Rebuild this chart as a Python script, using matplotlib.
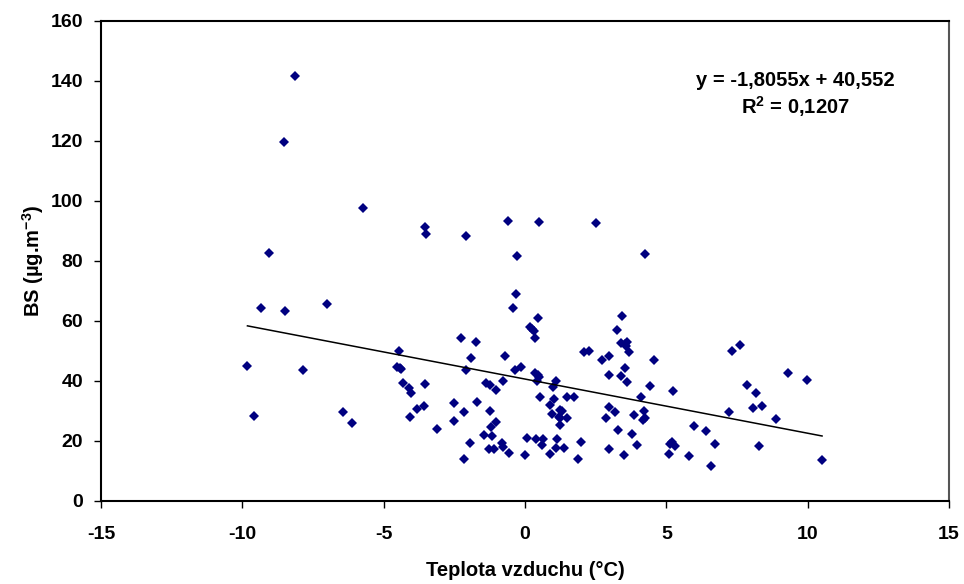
import numpy as np
import matplotlib
matplotlib.use('Agg')
import matplotlib.pyplot as plt

plt.rcParams['font.family'] = ['Liberation Sans', 'DejaVu Sans']
plt.rcParams['font.weight'] = 'bold'
plt.rcParams['axes.unicode_minus'] = False
plt.rcParams['mathtext.fontset'] = 'custom'
plt.rcParams['mathtext.rm'] = 'Liberation Sans:bold'
plt.rcParams['mathtext.bf'] = 'Liberation Sans:bold'
plt.rcParams['mathtext.default'] = 'bf'

# air temperature (°C) and BS concentration
temp = [
    -8.13, -8.53, -5.73, -9.07, -9.33, -8.50, -6.99, -9.82, -7.87, -9.60,
    -6.43, -6.12,
    5.22, 7.33, 7.59, 9.29, 9.96, 7.84, 8.16, 8.06, 8.37, 7.23,
    8.89, 5.99, 6.39, 6.73, 8.29, 5.14, 5.19, 5.32, 5.08, 5.79,
    6.58, 10.51,
    -3.55, -3.51, -2.08, -0.60, 0.48, 2.52, -0.27, 4.23, -0.31, -0.41,
    0.47, 0.18, 0.26, 0.33, 0.35, 3.44, 3.24, 3.38, 3.53, 3.60,
    3.57, 3.69, -2.26, -1.75, -4.46, -1.91, -0.69, 2.08, 2.27, 2.71,
    2.97, 4.55, -4.53, -4.43, -4.37, -2.07, -0.37, -0.14, 0.37, 0.45,
    0.50, 0.43, 3.55, 2.97, 3.40, 3.60, -4.30, -4.09, -4.04, -3.55,
    -1.37, -1.24, -0.78, -1.03, 1.09, 1.00, 0.54, 1.04, 1.50, 1.75,
    0.87, 0.96, 1.24, 1.32, 1.19, 1.24, 1.50, 1.25, 4.10, 4.43,
    2.97, 3.19, 2.87, 3.87, 4.21, 4.26, 4.17, 3.30, 3.80, 3.98,
    2.98, 3.52, -3.83, -3.58, -4.07, -3.13, -2.52, -2.17, -1.71, -2.52,
    -1.24, -1.03, -1.20, -1.44, -1.17, -1.96, -2.17, -1.28, -1.11, -0.82,
    -0.79, -0.56, 0.00, 0.07, 0.39, 0.63, 0.59, 1.13, 1.09, 1.39,
    0.89, 1.86, 1.97,
]
bs = [
    141.5, 119.5, 97.7, 82.7, 64.3, 63.3, 65.7, 44.8, 43.5, 28.2,
    29.7, 25.8,
    36.7, 49.9, 51.9, 42.5, 40.2, 38.6, 36.0, 30.8, 31.5, 29.6,
    27.3, 24.9, 23.2, 18.9, 18.3, 18.9, 19.7, 18.2, 15.6, 15.0,
    11.6, 13.6,
    91.1, 88.8, 88.1, 93.3, 93.0, 92.7, 81.5, 82.3, 68.9, 64.2,
    60.9, 57.8, 57.2, 56.7, 54.1, 61.7, 57.0, 52.7, 52.1, 53.0,
    51.7, 49.7, 54.3, 52.8, 49.9, 47.6, 48.3, 49.6, 49.9, 46.9,
    48.3, 46.9, 44.7, 44.1, 43.8, 43.7, 43.7, 44.7, 42.7, 41.9,
    41.3, 39.9, 44.1, 41.8, 41.6, 39.7, 39.2, 37.7, 36.0, 39.0,
    39.2, 38.5, 39.8, 36.8, 39.8, 37.8, 34.5, 34.0, 34.7, 34.7,
    31.9, 28.9, 30.2, 30.0, 28.0, 27.7, 27.6, 25.2, 34.7, 38.2,
    31.3, 29.7, 27.5, 28.7, 29.8, 27.6, 26.8, 23.5, 22.1, 18.6,
    17.3, 15.1, 30.7, 31.6, 27.9, 23.8, 32.5, 29.7, 32.9, 26.6,
    29.9, 26.2, 24.7, 21.8, 21.6, 19.1, 13.8, 17.2, 17.2, 19.3,
    18.0, 16.0, 15.2, 20.9, 20.6, 20.7, 18.6, 20.6, 17.7, 17.6,
    15.6, 13.9, 19.6,
]

# linear trend printed on the chart
slope = -1.8055
intercept = 40.552
r2 = 0.1207

x_ticks = [-15, -10, -5, 0, 5, 10, 15]
y_ticks = [0, 20, 40, 60, 80, 100, 120, 140, 160]

fig = plt.figure(figsize=(9.64, 5.84), dpi=100)
ax = fig.add_axes([0.1048, 0.1426, 0.8796, 0.822])

ax.plot(temp, bs, linestyle='none', marker='D', markersize=4.8,
        color='#000080', markeredgewidth=0)

xs = np.array([min(temp), max(temp)])
ax.plot(xs, slope * xs + intercept, color='black', linewidth=1.1)

ax.set_xlim(-15, 15)
ax.set_ylim(0, 160)
ax.set_xticks(x_ticks)
ax.set_yticks(y_ticks)
ax.tick_params(direction='out', length=5, width=1, labelsize=14)
ax.tick_params(axis='x', pad=13)
ax.tick_params(axis='y', pad=8)
for lab in ax.get_xticklabels() + ax.get_yticklabels():
    lab.set_fontweight('bold')
for sp in ax.spines.values():
    sp.set_linewidth(1.5)
ax.spines['right'].set_color('#555555')

ax.set_xlabel('Teplota vzduchu (°C)', fontsize=14.5, fontweight='bold', labelpad=13)
ax.set_ylabel('BS (µg.m$^{-3}$)', fontsize=14.5, fontweight='bold', labelpad=3)

eq = f'y = {slope:.4f}x + {intercept:.3f}'.replace('.', ',')
ax.text(9.55, 140.2, eq, ha='center', va='center', fontsize=14.5, fontweight='bold')
ax.text(9.55, 131.5, 'R$^{2}$ = ' + f'{r2:.4f}'.replace('.', ','),
        ha='center', va='center', fontsize=14.5, fontweight='bold')

fig.savefig('out.png', dpi=100)
